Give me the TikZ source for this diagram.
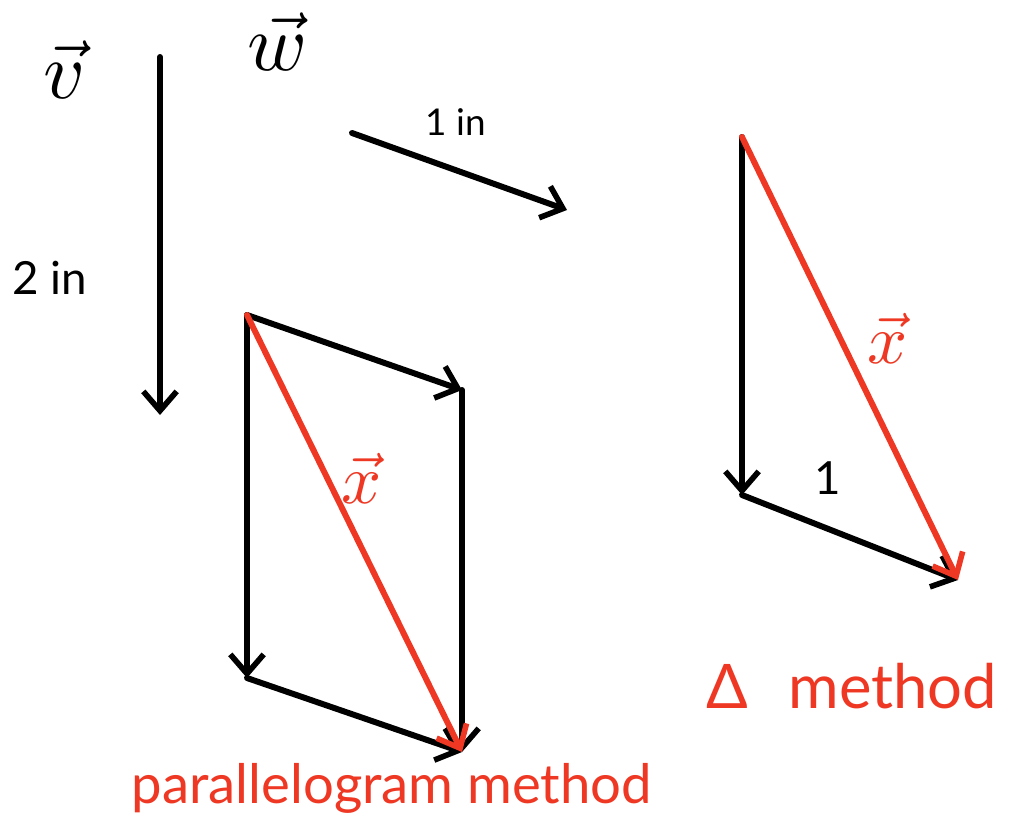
\documentclass[tikz,border=0pt]{standalone}
\usepackage{fontspec}
\setmainfont{Lato}
\usetikzlibrary{positioning, arrows.meta}
\definecolor{veccol}{RGB}{238,56,36}

\begin{document}
\begin{tikzpicture}[x=0.02cm, y=-0.02cm, line cap=round, line join=round,
  vec/.style={line width=3.4pt, -{Straight Barb[length=11pt, width=19pt, line width=3.2pt]}},
  redvec/.style={vec, draw=veccol},
  lbl/.style={inner sep=0pt, font=\fontsize{26}{30}\selectfont},
  mlbl/.style={inner sep=0pt, scale=4.6},
  redlbl/.style={inner sep=0pt, text=veccol, font=\fontsize{31}{36}\selectfont}]
\useasboundingbox (0,0) rectangle (1013,824);

% given vectors
\coordinate (v0) at (160,57);
\coordinate (v1) at (160,415);
\coordinate (w0) at (352,133);
\coordinate (w1) at (567,210);
\draw[vec] (v0) -- (v1);
\draw[vec] (w0) -- (w1);
\node[mlbl] (vlab) at (65,70) {$\vec{v}$};
\node[mlbl] (wlab) at (277,42) {$\vec{w}$};
\node[lbl] (vlen) at (50,278) {2 in};
\node[lbl, font=\fontsize{21}{25}\selectfont] (wlen) at (456,122) {1 in};

% parallelogram
\coordinate (pa) at (247,315);
\coordinate (pb) at (462,390);
\coordinate (pc) at (247,678);
\coordinate (pd) at (462,752);
\draw[vec] (pa) -- (pb);
\draw[vec] (pa) -- (pc);
\draw[vec] (pb) -- (pd);
\draw[vec] (pc) -- (pd);
\draw[redvec] (pa) -- (pd);
\node[redlbl, scale=4, font=] (px) at (362,478) {$\vec{x}$};
\node[redlbl] (ptitle) at (392,788) {parallelogram method};

% triangle
\coordinate (ta) at (742,137);
\coordinate (tb) at (742,495);
\coordinate (tc) at (958,580);
\draw[vec] (ta) -- (tb);
\draw[vec] (tb) -- (tc);
\draw[redvec] (ta) -- (tc);
\node[lbl] (tlen) at (828,478) {1};
\node[redlbl, scale=4, font=] (tx) at (888,338) {$\vec{x}$};
\node[redlbl, font=\fontsize{35}{40}\selectfont] (ttitle) at (852,686) {Δ\hspace{0.8cm}method};
\end{tikzpicture}
\end{document}
